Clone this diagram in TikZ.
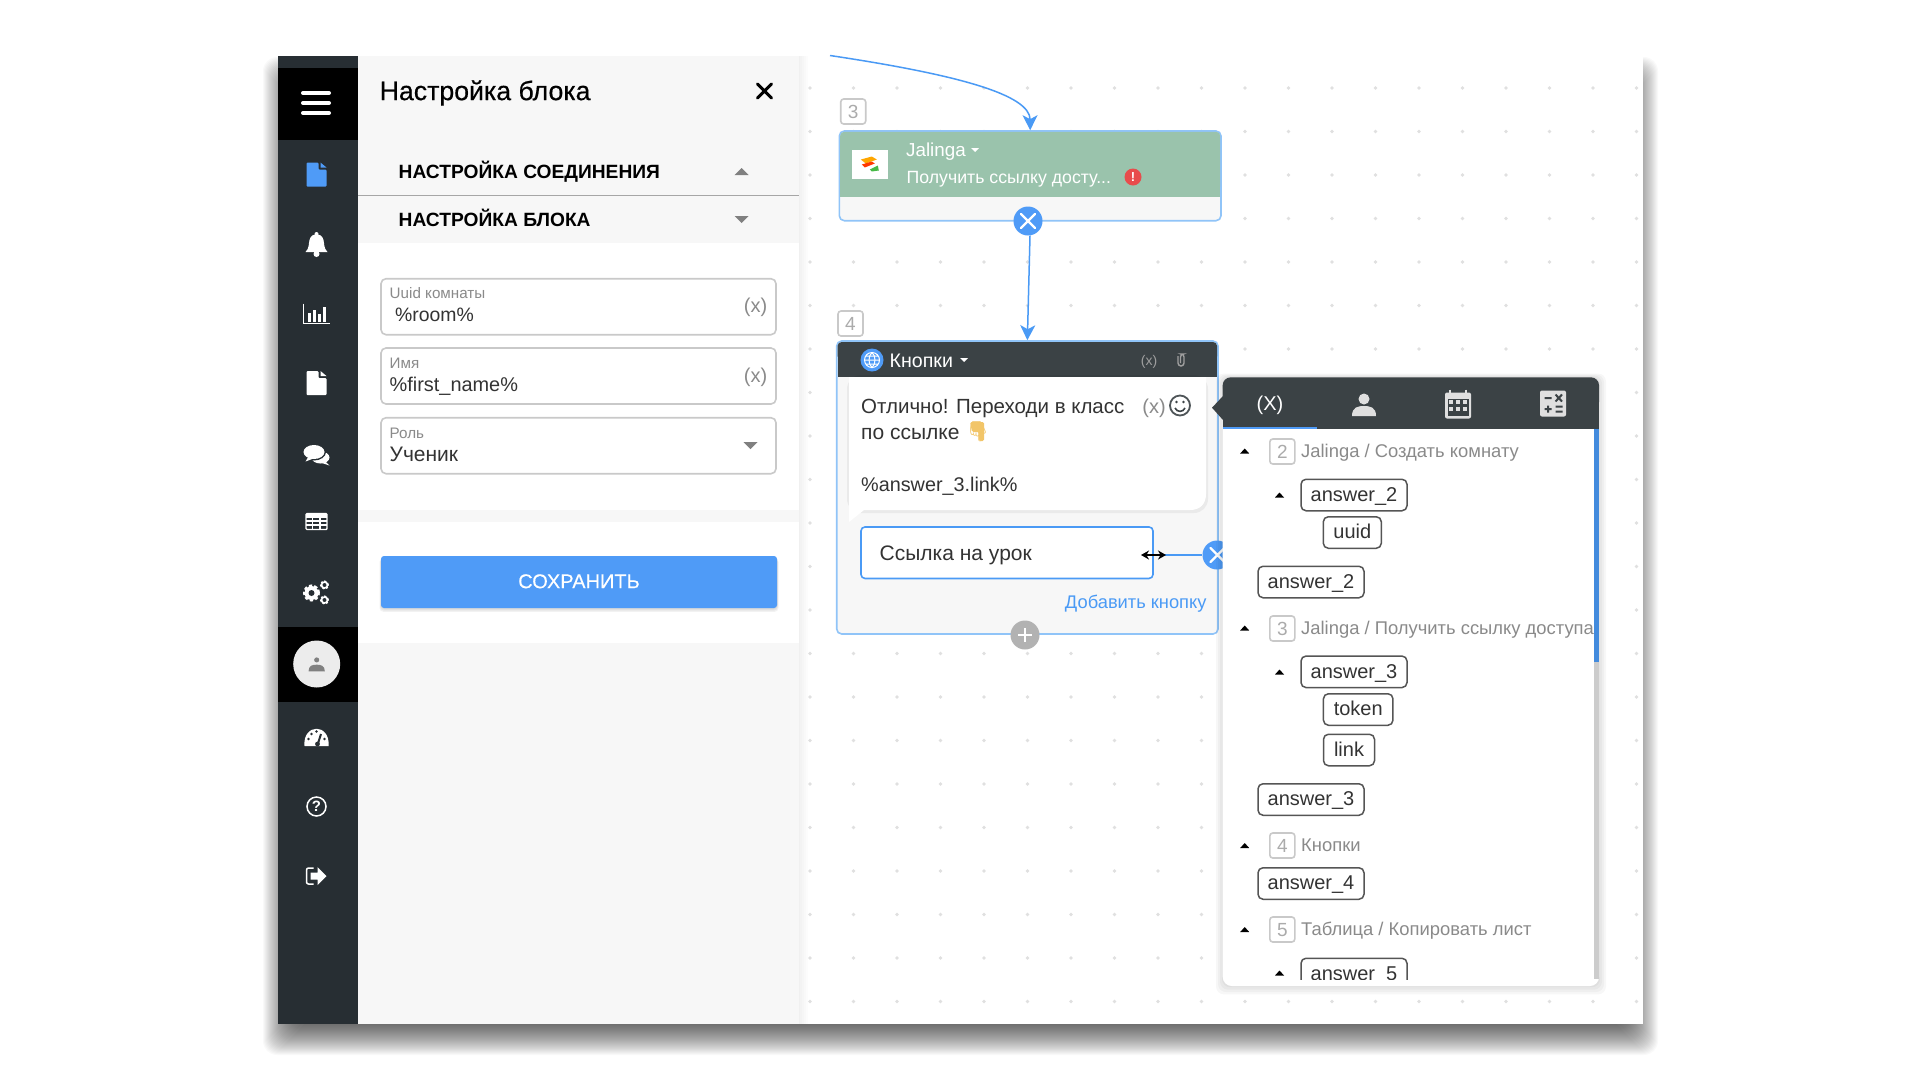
\documentclass[tikz,border=0pt]{standalone}
\usepackage{fontspec}
\setmainfont{Liberation Sans}
\newfontfamily\medf[FakeBold=0.5]{Liberation Sans}
\newfontfamily\emojif{Noto Emoji}
\usetikzlibrary{arrows.meta,calc}
\definecolor{sidebar}{HTML}{272E33}
\definecolor{darkhead}{HTML}{3B4245}
\definecolor{panelbg}{HTML}{F7F7F7}
\definecolor{btnblue}{HTML}{4F9BF7}
\definecolor{edgeblue}{HTML}{90C4F8}
\definecolor{lineblue}{HTML}{4A9AF5}
\definecolor{greenhead}{HTML}{9AC3AC}
\definecolor{inkc}{HTML}{333333}
\definecolor{greyt}{HTML}{8A8A8A}
\definecolor{boxg}{HTML}{C9C9C9}
\definecolor{chipe}{HTML}{555555}
\definecolor{dotc}{HTML}{E0E0E0}
\definecolor{alertred}{HTML}{E84C4C}
\definecolor{handc}{HTML}{F2C568}
\tikzset{
  sz/.style={font=\fontsize{#1}{#1}\selectfont,text height={0.72*#1pt},text depth=0pt},
  lbl/.style={inner sep=0pt,anchor=west,text=inkc,sz=#1},
  lbl/.default=20,
  fieldbox/.style={draw=boxg,line width=1.6pt,fill=white,rounded corners=5pt,minimum width=395pt,minimum height=56pt,inner sep=0pt},
  chip/.style={draw=chipe,line width=1.5pt,rounded corners=5pt,inner sep=0pt,minimum height=31.5pt,text=inkc,sz=20,text depth=2pt},
  numbox/.style={draw=boxg,line width=1.6pt,rounded corners=3pt,inner sep=0pt,minimum width=25pt,minimum height=25pt,text=boxg!85!black,sz=19},
  grouptxt/.style={inner sep=0pt,anchor=west,text=greyt,sz=18.4},
  flowline/.style={draw=lineblue,line width=1.5pt},
  flowarrow/.style={flowline,-{Stealth[length=15pt,width=15pt,inset=4pt]}},
  xbtn/.style={circle,fill=btnblue,inner sep=0pt,minimum size=29pt},
}
\newcommand{\tri}[3]{\fill[#3] (#1-4.5,#2+2.5) -- (#1+4.5,#2+2.5) -- (#1,#2-2.5) -- cycle;}
\newcommand{\triup}[3]{\fill[#3] (#1-7,#2+3.5) -- (#1+7,#2+3.5) -- (#1,#2-3.5) -- cycle;}
\newcommand{\tridown}[3]{\fill[#3] (#1-7,#2-3.5) -- (#1+7,#2-3.5) -- (#1,#2+3.5) -- cycle;}
\newcommand{\docicon}[3]{\begin{scope}[shift={(#1,#2)}]
  \fill[#3,rounded corners=1pt] (-10,-12) -- (2,-12) -- (2,-5) -- (10,-5) -- (10,12) -- (-10,12) -- cycle;
  \fill[#3] (4,-12) -- (10,-7) -- (4,-7) -- cycle;
\end{scope}}
\newcommand{\persicon}[4]{\begin{scope}[shift={(#1,#2)},scale=#3]
  \fill[#4] (0,-6) circle[radius=5.5pt*#3];
  \fill[#4] (-12,11) .. controls (-12,2) and (-6,1) .. (0,1) .. controls (6,1) and (12,2) .. (12,11) -- cycle;
\end{scope}}
\newcommand{\xmark}[4]{\draw[#4,line width=#3,line cap=round] (#1-7,#2-7) -- (#1+7,#2+7) (#1-7,#2+7) -- (#1+7,#2-7);}
\begin{document}
\begin{tikzpicture}[x=1pt,y=-1pt]
\useasboundingbox (0,0) rectangle (1920,1080);
\fill[white] (0,0) rectangle (1920,1080);
% window shadow
\foreach \s in {-14,-13,...,17}{
  \fill[black,opacity=0.024,rounded corners=14pt] (280-\s,74-\s) rectangle (1641+\s,1038+\s);
}
\fill[white] (278,55.5) rectangle (1643,1024);
% canvas dots
\foreach \i in {0,...,19}{\foreach \j in {0,...,21}{
  \fill[dotc] (810+43.5*\i,88+43.5*\j) circle[radius=1.9pt];
}}
% panel shadow
\foreach \s in {1,3,...,9}{\fill[black,opacity=0.012] (799,55.5) rectangle (799+\s,1024);}
% side panel
\fill[panelbg] (357,55.5) rectangle (799,1024);
\node[lbl,sz=26.7,text=black] (title) at (379.5,90.5) {\medf Настройка блока};
\xmark{764.5}{91}{3pt}{black}
\node[lbl,sz=19.2,text=black] (h1) at (398.5,171.5) {\textbf{НАСТРОЙКА СОЕДИНЕНИЯ}};
\triup{741.5}{171.5}{gray}
\draw[gray!70,line width=1.5pt] (357,195.5) -- (799,195.5);
\node[lbl,sz=19.2,text=black] (h2) at (398.5,219.5) {\textbf{НАСТРОЙКА БЛОКА}};
\tridown{741.5}{219.5}{gray}
\fill[white] (357,243) rectangle (799,509.5);
\fill[white] (357,521.5) rectangle (799,643);
\node[fieldbox] (f1) at (578.5,306.7) {};
\node[fieldbox] (f2) at (578.5,376) {};
\node[fieldbox] (f3) at (578.5,445.7) {};
\node[lbl,sz=15.2,text=greyt] (f1l) at (389.5,293.5) {Uuid комнаты};
\node[lbl,sz=19.4] (f1v) at (395,314.5) {\%room\%};
\node[inner sep=0pt,sz=20,text=greyt] (f1x) at (755.5,305.5) {(x)};
\node[lbl,sz=15.2,text=greyt] (f2l) at (389.5,363.5) {Имя};
\node[lbl,sz=19.9] (f2v) at (389.5,384.5) {\%first\_name\%};
\node[inner sep=0pt,sz=20,text=greyt] (f2x) at (755.5,375) {(x)};
\node[lbl,sz=15.2,text=greyt] (f3l) at (389.5,433.5) {Роль};
\node[lbl,sz=21] (f3v) at (389.5,454) {Ученик};
\tridown{750.5}{445.5}{gray}
% save button
\foreach \s in {1,2,3}{\fill[black,opacity=0.05,rounded corners=4pt] (381-\s/2,558) rectangle (777+\s/2,608+\s*1.3);}
\node[fill=btnblue,rounded corners=3pt,minimum width=396pt,minimum height=52pt,inner sep=0pt,text=white,sz=20,text depth=2pt] (save) at (579,582) {\addfontfeature{FakeBold=0.25}СОХРАНИТЬ};
% sidebar
\fill[sidebar] (278,55.5) rectangle (357.5,1024);
\fill[black] (278,68) rectangle (357.5,140);
\fill[black] (278,626.5) rectangle (357.5,702);
\foreach \y in {93,103,113}{\draw[white,line width=4pt,line cap=round] (303,\y) -- (329,\y);}
\docicon{316.5}{174.5}{btnblue}
% bell
\begin{scope}[shift={(316.5,244)}]
\fill[white] (-11,8) .. controls (-7,4) and (-8,0) .. (-7,-4) .. controls (-6,-8) and (-3,-10) .. (0,-10) .. controls (3,-10) and (6,-8) .. (7,-4) .. controls (8,0) and (7,4) .. (11,8) -- cycle;
\fill[white] (0,-10) circle[radius=2pt];
\fill[white] (0,10) circle[radius=3pt];
\end{scope}
% chart
\begin{scope}[shift={(316.5,313.5)}]
\draw[white,line width=1.5pt] (-13,-10) -- (-13,10) -- (13,10);
\foreach \x/\h in {-9/-1,-4/-4,1/0,6/-7}{\fill[white] (\x,8) rectangle (\x+3.2,\h);}
\end{scope}
\docicon{316.5}{383}{white}
% chat
\begin{scope}[shift={(316.5,453.5)}]
\fill[white] (4,4) ellipse[x radius=9pt,y radius=6pt];
\fill[white] (8,7) -- (13,12) -- (4,9) -- cycle;
\fill[sidebar] (-2.5,-1.5) ellipse[x radius=12pt,y radius=8.5pt];
\fill[white] (-2.5,-1.5) ellipse[x radius=10.5pt,y radius=7pt];
\fill[white] (-8,3) -- (-11,8) -- (-3,5) -- cycle;
\end{scope}
% table
\begin{scope}[shift={(316.5,521.5)}]
\draw[white,line width=1.4pt,fill=none,rounded corners=1pt] (-10.5,-8) rectangle (10.5,8);
\fill[white] (-10.5,-8) rectangle (10.5,-3.5);
\draw[white,line width=1.2pt] (-10.5,-0.5) -- (10.5,-0.5) (-10.5,3.5) -- (10.5,3.5) (-4,-4) -- (-4,8) (3.5,-4) -- (3.5,8);
\end{scope}
% gears
\begin{scope}[shift={(316.5,592)}]
\draw[white,line width=3pt,dash pattern=on 3pt off 2.2pt] (-5,1) circle[radius=7pt];
\fill[white] (-5,1) circle[radius=7pt];
\fill[sidebar] (-5,1) circle[radius=3pt];
\draw[white,line width=2pt,dash pattern=on 2pt off 1.5pt] (8,-7) circle[radius=3.5pt];
\draw[white,line width=1.6pt] (8,-7) circle[radius=3pt];
\draw[white,line width=2pt,dash pattern=on 2pt off 1.5pt] (8,8) circle[radius=3.5pt];
\draw[white,line width=1.6pt] (8,8) circle[radius=3pt];
\end{scope}
% avatar
\fill[gray!15] (316.7,664) circle[radius=23.5pt];
\persicon{316.7}{664}{0.68}{gray}
% dashboard
\begin{scope}[shift={(316.5,738)}]
\fill[white] (-12,8) .. controls (-14,-15) and (14,-15) .. (12,8) -- cycle;
\foreach \x/\y in {-8/1,-5/-4,0/-6.5,8/1}{\fill[sidebar] (\x,\y) circle[radius=1.3pt];}
\draw[sidebar,line width=2pt] (1,7) -- (4.5,-4);
\fill[sidebar] (1,6) circle[radius=2.4pt];
\end{scope}
% help
\draw[white,line width=1.5pt] (316.5,806.5) circle[radius=9.5pt];
\node[inner sep=0pt,sz=15,text=white] (helpq) at (316.5,806.5) {\textbf{?}};
% exit
\begin{scope}[shift={(316.5,876)}]
\draw[white,line width=1.5pt,rounded corners=2pt] (-3,-8) -- (-10,-8) -- (-10,8) -- (-3,8);
\fill[white] (-6,-3.5) -- (1,-3.5) -- (1,-9) -- (10,0) -- (1,9) -- (1,3.5) -- (-6,3.5) -- cycle;
\end{scope}
% node 3
\node[numbox] (num3) at (853.2,111.5) {3};
\node[draw=edgeblue,line width=1.6pt,fill=panelbg,rounded corners=5pt,minimum width=381.7pt,minimum height=89.7pt,inner sep=0pt] (n3) at (1030.15,175.85) {};
\fill[greenhead,rounded corners=4pt] (840.2,131.8) rectangle (1220.2,190);
\fill[greenhead] (840.2,150) rectangle (1220.2,197);
\fill[white] (851.7,150) rectangle (888,179);
\begin{scope}[shift={(869.8,164.5)}]
\fill[orange!70!yellow] (-9,-5) -- (2,-8) -- (7,-5) -- (-4,-1) -- cycle;
\fill[red!55!orange] (-8,0) -- (2,-3) -- (5,-1) -- (-5,3) -- cycle;
\fill[green!45!gray] (0,5) -- (8,1) -- (9,6) -- (2,7) -- cycle;
\end{scope}
\node[lbl,sz=18.8,text=white] (t3a) at (906,150) {Jalinga};
\fill[white] (971,148) -- (979,148) -- (975,152) -- cycle;
\node[lbl,sz=17.7,text=white] (t3b) at (906.5,177) {Получить ссылку досту...};
\fill[alertred] (1133,177) circle[radius=8.5pt];
\node[inner sep=0pt,sz=13,text=white] (t3e) at (1133,177) {\textbf{!}};
% node 4
\node[numbox] (num4) at (850.5,323.5) {4};
\node[draw=edgeblue,line width=1.6pt,fill=panelbg,rounded corners=5pt,minimum width=381.3pt,minimum height=293pt,inner sep=0pt] (n4) at (1027.35,487.5) {};
% connectors
\coordinate (topstart) at (830,55.5);
\node[xbtn] (x3) at (1028,221) {};
\draw[flowarrow] (topstart) .. controls (960,75) and (1030,95) .. (n3.north);
\draw[flowarrow] ($(x3.south)+(2,0)$) -- (n4.north);
\xmark{1028}{221}{2.2pt}{white}
% node 4 inner
\fill[darkhead,rounded corners=4pt] (837.6,342) rectangle (1217.1,360);
\fill[darkhead] (837.6,350) rectangle (1217.1,377);
\fill[btnblue] (872,360) circle[radius=11.5pt];
\draw[white,line width=1pt] (872,360) circle[radius=7.5pt] (864.5,360) -- (879.5,360) (866,356) -- (878,356) (866,364) -- (878,364);
\draw[white,line width=1pt] (872,352.5) .. controls (868,356) and (868,364) .. (872,367.5) .. controls (876,364) and (876,356) .. (872,352.5);
\node[lbl,sz=19.6,text=white] (t4) at (889.5,360) {Кнопки};
\fill[white] (960,358) -- (968,358) -- (964,362) -- cycle;
\node[inner sep=0pt,sz=14,text=gray!75] (t4x) at (1149,360.5) {(x)};
\draw[gray!75,line width=1.4pt,rounded corners=3pt] (1178,356) -- (1178,366) -- (1184,366) -- (1184,354) -- (1180.5,354) -- (1180.5,363);
% bubble
\fill[black,opacity=0.05,rounded corners=14pt] (847,375) rectangle (1208,513);
\fill[white] (849,377) -- (1206,377) -- (1206,494) .. controls (1206,504) and (1200,510) .. (1190,510) -- (864,510) -- (849,522) -- cycle;
\node[lbl,sz=20.5] (b1) at (861,406) {Отлично! Переходи в класс};
\node[lbl,sz=21] (b2) at (861,432) {по ссылке};
\fill[handc,rounded corners=1.5pt] (970,422) -- (984,422) -- (984,441) -- (979,441) -- (979,432) -- (972,432) -- cycle;
\node[inner sep=0pt,sz=20,text=handc] (b2e) at (978,431) {\emojif 👇};
\node[lbl,sz=19.8] (b3) at (861,484.5) {\%answer\_3.link\%};
\node[inner sep=0pt,sz=20,text=greyt] (bx) at (1154,406) {(x)};
\draw[darkhead!90,line width=1.8pt] (1180,405.5) circle[radius=10pt];
\fill[darkhead] (1176.5,402) circle[radius=1.4pt] (1183.5,402) circle[radius=1.4pt];
\draw[darkhead,line width=1.6pt] (1175,408) .. controls (1177,412.5) and (1183,412.5) .. (1185,408);
% button
\node[draw=lineblue,line width=1.6pt,fill=white,rounded corners=4pt,minimum width=292pt,minimum height=51.5pt,inner sep=0pt] (bt) at (1007,552.7) {};
\node[lbl,sz=21] (btt) at (879.5,552.5) {Ссылка на урок};
\node[xbtn] (x4) at (1217,555) {};
\draw[flowline] (bt.east |- x4) -- (x4);
\xmark{1217.5}{555}{2.2pt}{white}
\draw[black,line width=2.8pt,{Stealth[length=8pt,width=9pt]}-{Stealth[length=8pt,width=9pt]}] (1141,555) -- (1166,555);
\node[inner sep=0pt,anchor=east,sz=18.3,text=lineblue] (addb) at (1206.7,602) {Добавить кнопку};
\node[circle,fill=gray!60,inner sep=0pt,minimum size=29pt] (plus) at (1025,635) {};
\draw[white,line width=2pt] (1018,635) -- (1032,635) (1025,628) -- (1025,642);
% popup
\foreach \s in {1,3,5,7}{\fill[black,opacity=0.03,rounded corners=8pt] (1223-\s,377-\s/2) rectangle (1599+\s,986+\s*1.2);}
\fill[white,rounded corners=9pt] (1222.7,380) rectangle (1599,986);
\fill[darkhead,rounded corners=8pt] (1222.7,377.3) rectangle (1599,410);
\fill[darkhead] (1222.7,395) rectangle (1599,429);
\fill[darkhead] (1212,407.7) -- (1223,396) -- (1223,420) -- cycle;
\fill[btnblue] (1222.7,426.5) rectangle (1317,429);
\node[inner sep=0pt,sz=20,text=white] (tabx) at (1270,403.5) {(X)};
\persicon{1364}{405}{1}{gray!25}
\begin{scope}[shift={(1458,404.5)}]
\fill[gray!25,rounded corners=2pt] (-13,-12) rectangle (13,14);
\draw[gray!25,line width=2pt] (-8,-15) -- (-8,-11) (8,-15) -- (8,-11);
\fill[darkhead] (-10.5,-6) rectangle (10.5,11.5);
\foreach \x in {-7,0,7}{\foreach \y in {-2.5,4.5}{\fill[gray!25] (\x-1.7,\y-1.7) rectangle (\x+1.7,\y+1.7);}}
\end{scope}
\begin{scope}[shift={(1553,403.5)}]
\fill[gray!25,rounded corners=2pt] (-13,-13) rectangle (13,13);
\draw[darkhead,line width=2pt] (-8.5,-5.5) -- (-1.5,-5.5) (-8.5,5.5) -- (-1.5,5.5) (-5,2) -- (-5,9) (2.5,-9) -- (9,-2) (2.5,-2) -- (9,-9) (2.5,3) -- (9.5,3) (2.5,8) -- (9.5,8);
\end{scope}
% tree
\fill[gray!40] (1594,429) rectangle (1599,979);
\fill[lineblue!90!black] (1594,429) rectangle (1599,662);
\tri{1244.7}{451}{black}
\node[numbox] (p2) at (1282.3,451.5) {2};
\node[grouptxt] (g2) at (1301,451) {Jalinga / Создать комнату};
\tri{1279.5}{495}{black}
\node[chip,minimum width=106pt] (a2) at (1354,495) {answer\_2};
\node[chip,minimum width=58pt] (u2) at (1352.3,532.5) {uuid};
\node[chip,minimum width=106pt] (a2b) at (1311,582) {answer\_2};
\tri{1244.7}{628}{black}
\node[numbox] (p3) at (1282.3,628.5) {3};
\node[grouptxt] (g3) at (1301,628) {Jalinga / Получить ссылку доступа};
\tri{1279.5}{672}{black}
\node[chip,minimum width=106pt] (a3) at (1354,671.8) {answer\_3};
\node[chip,minimum width=69.5pt] (tok) at (1358.2,709.5) {token};
\node[chip,minimum width=51pt] (lnk) at (1349,750) {link};
\node[chip,minimum width=106pt] (a3b) at (1311,799.5) {answer\_3};
\tri{1244.7}{845.5}{black}
\node[numbox] (p4) at (1282.3,845.5) {4};
\node[grouptxt] (g4) at (1301,845) {Кнопки};
\node[chip,minimum width=106pt] (a4) at (1311,883.5) {answer\_4};
\tri{1244.7}{929.5}{black}
\node[numbox] (p5) at (1282.3,929.5) {5};
\node[grouptxt] (g5) at (1301,929) {Таблица / Копировать лист};
\tri{1279.5}{973}{black}
\begin{scope}
\clip (1290,950) rectangle (1420,979);
\node[chip,minimum width=106pt] (a5) at (1354,974) {answer\_5};
\end{scope}
\end{tikzpicture}
\end{document}
